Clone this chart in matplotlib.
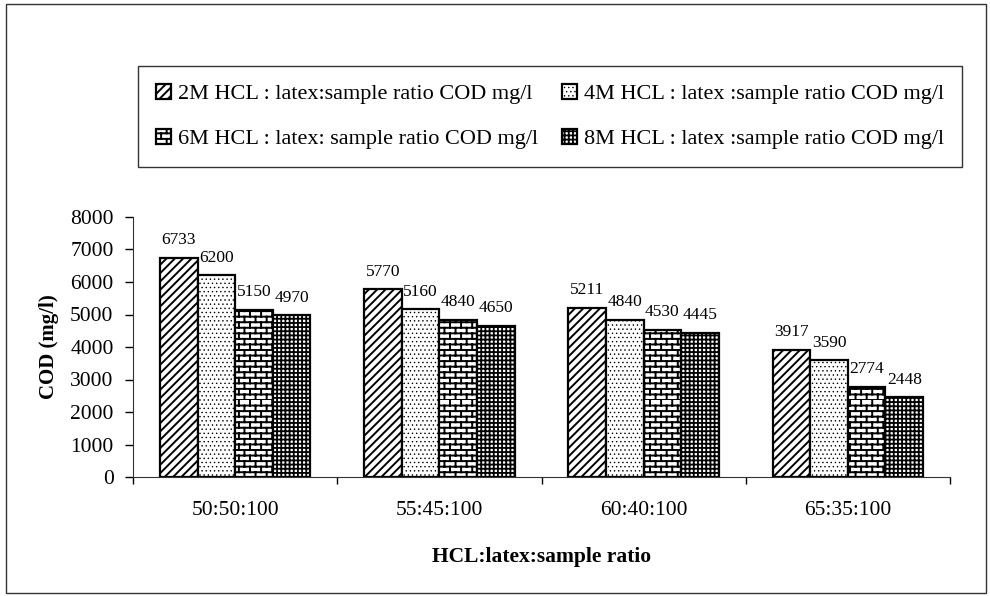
import numpy as np
import matplotlib
matplotlib.use('Agg')
import matplotlib.pyplot as plt
from matplotlib import hatch as mhatch
from matplotlib.path import Path
from matplotlib.patches import Rectangle

# datos
ratios = ['50:50:100', '55:45:100', '60:40:100', '65:35:100']
cod_2m = [6733, 5770, 5211, 3917]
cod_4m = [6200, 5160, 4840, 3590]
cod_6m = [5150, 4840, 4530, 2774]
cod_8m = [4970, 4650, 4445, 2448]
series_names = ['2M HCL : latex:sample ratio COD mg/l',
                '4M HCL : latex :sample ratio COD mg/l',
                '6M HCL : latex: sample ratio COD mg/l',
                '8M HCL : latex :sample ratio COD mg/l']


# patron de ladrillos (reemplaza el 'o' de matplotlib)
class BrickHatch(mhatch.HatchPatternBase):
    def __init__(self, hatch, density):
        n = hatch.count('o')
        self.rows = 18 * n
        self.cols = 9 * n
        self.num_vertices = self.rows * 2 + self.rows * self.cols * 2

    def set_vertices_and_codes(self, vertices, codes):
        k = 0
        for i in range(self.rows):
            y0 = i / self.rows
            y1 = (i + 1) / self.rows
            vertices[k] = (0, y0)
            vertices[k + 1] = (1, y0)
            k += 2
            shift = 0.5 * (i % 2)
            for j in range(self.cols):
                xv = (j + shift) / self.cols
                vertices[k] = (xv, y0)
                vertices[k + 1] = (xv, y1)
                k += 2
        codes[0::2] = Path.MOVETO
        codes[1::2] = Path.LINETO


mhatch._hatch_types[:] = [t for t in mhatch._hatch_types
                          if t is not mhatch.SmallCircles] + [BrickHatch]

plt.rcParams['font.family'] = ['Liberation Serif', 'DejaVu Serif']
plt.rcParams['hatch.linewidth'] = 1.4
plt.rcParams['hatch.color'] = 'black'

fig = plt.figure(figsize=(9.9, 5.96), dpi=100)
ax = fig.add_axes([133/990, 1 - 477/596, 817/990, 260/596])

x = np.arange(len(ratios))
w = 0.184
hatches = ['////', '....', 'o', '++++']
hatch_lw = [1.4, 0.5, 1.4, 1.3]
data = [cod_2m, cod_4m, cod_6m, cod_8m]
bars = []
for i, (vals, h) in enumerate(zip(data, hatches)):
    b = ax.bar(x + (i - 1.5) * w, vals, w, facecolor='white', edgecolor='black',
               linewidth=1.6, hatch=h, label=series_names[i])
    for p in b:
        if hasattr(p, 'set_hatch_linewidth'):
            p.set_hatch_linewidth(hatch_lw[i])
    bars.append(b)
    for xi, v in zip(x + (i - 1.5) * w, vals):
        ax.annotate(str(v), (xi, v), xytext=(0, 7), textcoords='offset points',
                    ha='center', va='bottom', fontsize=12.5)

ax.set_xlim(-0.5, 3.5)
ax.set_ylim(0, 8000)
ax.set_yticks(np.arange(0, 8001, 1000))
ax.tick_params(axis='y', labelsize=15.5, length=6, width=1, pad=8)
ax.set_xticks(np.arange(-0.5, 3.6, 1))
ax.set_xticklabels([])
ax.set_xticks(x, minor=True)
ax.set_xticklabels(ratios, minor=True, fontsize=15.5)
ax.tick_params(axis='x', which='major', length=5, width=1)
ax.tick_params(axis='x', which='minor', length=0, pad=17)
for s in ['top', 'right']:
    ax.spines[s].set_visible(False)
for s in ['left', 'bottom']:
    ax.spines[s].set_color('#333333')

ax.set_ylabel('COD (mg/l)', fontsize=15, fontweight='bold', labelpad=8)
ax.set_xlabel('HCL:latex:sample ratio', fontsize=15.5, fontweight='bold', labelpad=20)

# leyenda en dos filas
order = [0, 2, 1, 3]
leg = fig.legend([bars[k] for k in order], [series_names[k] for k in order],
                 loc='center', ncol=2, mode='expand',
                 bbox_to_anchor=(138/990, 1 - 165/596, 824/990, 97/596),
                 fontsize=16, frameon=True, fancybox=False, edgecolor='black',
                 handlelength=0.7, handleheight=0.7, handletextpad=0.3,
                 columnspacing=0.8, borderaxespad=0, labelspacing=1.1,
                 borderpad=0.8)
leg.get_frame().set_linewidth(1.0)
for k, hnd in zip(order, leg.legend_handles):
    if hasattr(hnd, 'set_hatch_linewidth'):
        hnd.set_hatch_linewidth(hatch_lw[k])

# marco exterior
fig.patches.append(Rectangle((6/990, 1 - 593/596), 980/990, 589/596,
                             transform=fig.transFigure, fill=False,
                             edgecolor='#333333', linewidth=1.0))

fig.savefig('out.png', dpi=100)
